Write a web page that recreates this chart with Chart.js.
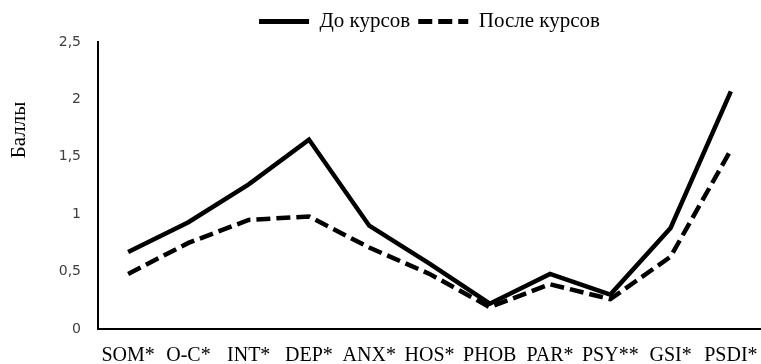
<!DOCTYPE html>
<html>
<head>
<meta charset="utf-8">
<script src="https://cdn.jsdelivr.net/npm/chart.js@4"></script>
<style>
  html, body { margin: 0; padding: 0; background: #fff; }
  #wrap { width: 761px; height: 364px; }
</style>
</head>
<body>
<div id="wrap"><canvas id="chartCanvas" width="761" height="364"></canvas></div>
<script>
// data
const categories = ["SOM*", "O-C*", "INT*", "DEP*", "ANX*", "HOS*", "PHOB", "PAR*", "PSY**", "GSI*", "PSDI*"];
const beforeCourse = [0.67, 0.93, 1.26, 1.65, 0.90, 0.57, 0.22, 0.48, 0.30, 0.88, 2.07];
const afterCourse  = [0.48, 0.75, 0.95, 0.98, 0.71, 0.48, 0.19, 0.39, 0.26, 0.63, 1.56];
const seriesNames = ["До курсов", "После курсов"];
const yTitle = "Баллы";

const serif = "'Liberation Serif', 'Times New Roman', serif";

// y-axis title sits higher than the axis middle, draw it by hand
// legend is centred over the plot area, not the whole canvas
const extrasPlugin = {
  id: "extras",
  beforeDraw(chart) {
    chart.legend.left = chart.chartArea.left;
  },
  afterDraw(chart) {
    const ctx = chart.ctx;
    ctx.save();
    ctx.translate(19, 130);
    ctx.rotate(-Math.PI / 2);
    ctx.font = "21px " + serif;
    ctx.fillStyle = "#000";
    ctx.textAlign = "center";
    ctx.textBaseline = "middle";
    ctx.fillText(yTitle, 0, 0);
    ctx.restore();
  }
};

const canvas = document.getElementById("chartCanvas");

const chart = new Chart(canvas, {
  type: "line",
  data: {
    labels: categories,
    datasets: [
      {
        label: seriesNames[0],
        data: beforeCourse,
        borderColor: "#000",
        backgroundColor: "#000",
        borderWidth: 4.5,
        pointRadius: 0,
        tension: 0
      },
      {
        label: seriesNames[1],
        data: afterCourse,
        borderColor: "#000",
        backgroundColor: "#000",
        borderWidth: 4.5,
        borderDash: [14, 6],
        pointRadius: 0,
        tension: 0
      }
    ]
  },
  options: {
    responsive: false,
    animation: false,
    layout: { padding: { left: 0, right: 0, top: 3, bottom: 0 } },
    plugins: {
      tooltip: { enabled: false },
      legend: {
        position: "top",
        labels: {
          color: "#000",
          font: { family: serif, size: 21 },
          usePointStyle: true,
          pointStyle: "line",
          pointStyleWidth: 50,
          boxHeight: 18,
          padding: 8,
          generateLabels: ch => ch.data.datasets.map((ds, i) => ({
            text: ds.label,
            datasetIndex: i,
            strokeStyle: "#000",
            fillStyle: "#000",
            fontColor: "#000",
            lineWidth: 5,
            lineDash: ds.borderDash || [],
            lineCap: "butt",
            pointStyle: "line",
            hidden: false
          }))
        }
      }
    },
    scales: {
      x: {
        offset: true,
        grid: { display: false, drawTicks: false },
        border: { display: true, color: "#000", width: 2 },
        ticks: {
          color: "#000",
          font: { family: serif, size: 20 },
          padding: 15,
          maxRotation: 0,
          autoSkip: false
        },
        afterFit: s => {
          s.height = 35;
          s.paddingLeft = 0;
          s.paddingRight = 0;
        }
      },
      y: {
        min: 0,
        max: 2.5,
        grid: { display: false, drawTicks: false },
        border: { display: true, color: "#000", width: 2 },
        ticks: {
          stepSize: 0.5,
          color: "#404040",
          font: { family: "'DejaVu Sans', Verdana, sans-serif", size: 14 },
          padding: 17,
          callback: v => String(v).replace(".", ",")
        },
        afterFit: s => { s.width = 98; }
      }
    }
  },
  plugins: [extrasPlugin]
});
</script>
</body>
</html>
